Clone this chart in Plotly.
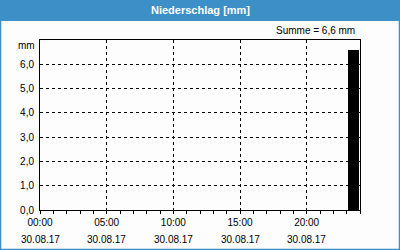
import plotly.graph_objects as go

# ---- data ----
hours = list(range(24))
precip_mm = [0.0] * 23 + [6.6]
tick_hours = [0, 5, 10, 15, 20]
tick_times = ["00:00", "05:00", "10:00", "15:00", "20:00"]
tick_dates = ["30.08.17"] * 5
y_ticks = [0, 1, 2, 3, 4, 5, 6]
title_text = "Niederschlag [mm]"
sum_text = "Summe = 6,6 mm"
unit_text = "mm"

BLUE = "#3d8fc8"
BG = "#fcfdfc"
FONT = "Liberation Sans"

L, R, T, B = 40, 40, 40, 40
W, H = 400, 250
PW, PH = W - L - R, H - T - B


def px_x(x):
    return (x - L) / PW


def px_y(y):
    return (H - B - y) / PH


fig = go.Figure()
fig.add_trace(go.Bar(
    x=[h + 0.5 for h in hours],
    y=precip_mm,
    width=0.82,
    marker=dict(color="black", line=dict(width=0)),
    showlegend=False,
))

fig.update_layout(
    width=W, height=H,
    margin=dict(l=L, r=R, t=T, b=B),
    paper_bgcolor=BG, plot_bgcolor=BG,
    separators=",.",
    font=dict(family=FONT, size=10, color="black"),
    bargap=0,
)

fig.update_xaxes(
    range=[0, 24],
    tickvals=tick_hours,
    ticktext=tick_times,
    showgrid=True, gridcolor="black", griddash="3px,3px", gridwidth=1,
    showline=True, linecolor="black", linewidth=1, mirror=True,
    ticks="outside", ticklen=3, tickcolor="black",
    minor=dict(dtick=1, ticks="outside", ticklen=3, tickcolor="black", showgrid=False),
    zeroline=False,
    tickfont=dict(family=FONT, size=10),
    fixedrange=True,
)
fig.update_yaxes(
    range=[0, 7],
    tickvals=y_ticks,
    tickformat=".1f",
    showgrid=True, gridcolor="black", griddash="3px,3px", gridwidth=1,
    showline=True, linecolor="black", linewidth=1, mirror=True,
    ticks="", ticklabelstandoff=3,
    zeroline=False,
    tickfont=dict(family=FONT, size=10),
    fixedrange=True,
)

# date line under each time tick
for h, d in zip(tick_hours, tick_dates):
    fig.add_annotation(x=h, y=px_y(239), xref="x", yref="paper",
                       text=d, showarrow=False, xanchor="center", yanchor="middle",
                       font=dict(family=FONT, size=10, color="black"))

# header bar and border
fig.add_shape(type="rect", xref="paper", yref="paper",
              x0=px_x(0), x1=px_x(W), y0=px_y(21), y1=px_y(0),
              fillcolor=BLUE, line=dict(width=0), layer="above")
fig.add_shape(type="rect", xref="paper", yref="paper",
              x0=px_x(0.5), x1=px_x(W - 0.5), y0=px_y(H - 0.5), y1=px_y(0.5),
              fillcolor="rgba(0,0,0,0)", line=dict(color=BLUE, width=1.5), layer="above")

fig.add_annotation(x=px_x(200), y=px_y(10.5), xref="paper", yref="paper",
                   text="<b>" + title_text + "</b>", showarrow=False,
                   xanchor="center", yanchor="middle",
                   font=dict(family=FONT, size=11, color="white"))
fig.add_annotation(x=px_x(357), y=px_y(31), xref="paper", yref="paper",
                   text=sum_text, showarrow=False, xanchor="right", yanchor="middle",
                   font=dict(family=FONT, size=10, color="black"))
fig.add_annotation(x=px_x(37), y=px_y(45), xref="paper", yref="paper",
                   text=unit_text, showarrow=False, xanchor="right", yanchor="middle",
                   font=dict(family=FONT, size=10, color="black"))

fig.write_html("out.html", config={"displayModeBar": False})
